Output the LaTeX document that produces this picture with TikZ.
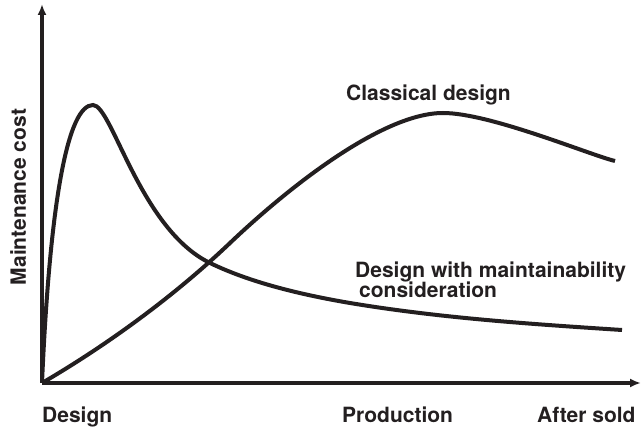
\documentclass[tikz,border=0pt]{standalone}
\usepackage{fontspec}
\setmainfont{TeX Gyre Heros}
\usetikzlibrary{arrows.meta}
\definecolor{ink}{RGB}{35,31,32}
\tikzset{
  axis/.style={ink, line width=3.5pt, -{Latex[length=11pt,width=9pt]}},
  curve/.style={ink, line width=4pt},
  lbl/.style={inner sep=0pt, anchor=base west, text=ink,
    font=\fontsize{21}{25}\selectfont\bfseries}
}
\begin{document}
\begin{tikzpicture}[x=1pt,y=1pt]
  \useasboundingbox (0,0) rectangle (641,429);
  \coordinate (O) at (42,46);
  \coordinate (ytop) at (42,425);
  \coordinate (xend) at (641,46);
  % axes
  \draw[axis] (O) -- (ytop);
  \draw[axis] (O) -- (xend);
  % maintainability curve
  \coordinate (mpeak) at (93,324);
  \coordinate (mend) at (622,99);
  \draw[curve] (O) .. controls (50,230) and (68,324) .. (mpeak)
    .. controls (112,324) and (140,200) .. (210,166)
    .. controls (250,146.6) and (300,134.5) .. (350,126)
    .. controls (440,111) and (530,105) .. (mend);
  % classical curve
  \coordinate (cpeak) at (443,316);
  \coordinate (cend) at (615,268);
  \draw[curve] (O) .. controls (102,81) and (170,129) .. (230,186)
    .. controls (290,243) and (383,316) .. (cpeak)
    .. controls (490,316) and (590,274) .. (cend);
  % labels
  \node[lbl] (classical) at (346,328) {Classical design};
  \node[lbl] (maint) at (355,151) {Design with maintainability};
  \node[lbl] (consid) at (359,131) {consideration};
  \node[lbl, anchor=base, rotate=90] (cost) at (26,232) {Maintenance cost};
  \node[lbl] (design) at (42,6) {Design};
  \node[lbl] (prod) at (342,6) {Production};
  \node[lbl] (sold) at (537,6) {After sold};
\end{tikzpicture}
\end{document}
